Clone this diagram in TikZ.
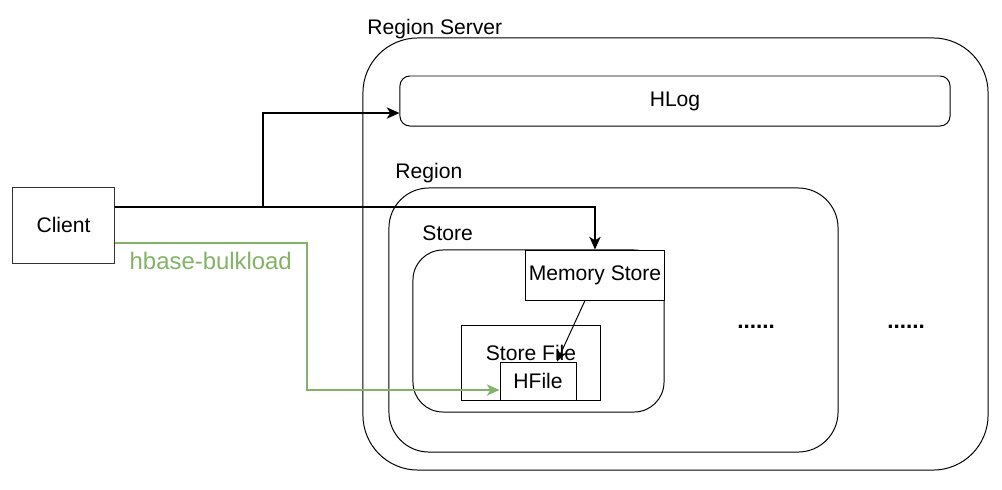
\documentclass[tikz,border=0pt]{standalone}
\usepackage{fontspec}
\setmainfont{Liberation Sans}
\usetikzlibrary{arrows.meta}
\definecolor{bulkgreen}{HTML}{82B366}
\tikzstyle{box} = [rectangle, draw = black, line width = 0.7pt, text centered, inner sep = 0pt]
\tikzstyle{server} = [box, rounded corners = 1.375cm]
\tikzstyle{rbox} = [box, rounded corners = 0.25cm]
\tikzstyle{tag} = [anchor = base west, inner sep = 0.333em]
\tikzstyle{arrow} = [line width = 1.4pt, ->, >={Stealth[length = 9pt, width = 8pt, inset = 2.5pt]}]
\tikzstyle{thinarrow} = [line width = 0.7pt, ->, >={Stealth[length = 8pt, width = 7pt, inset = 2pt]}]
\tikzstyle{bulkarrow} = [line width = 1.3pt, ->, >={Stealth[length = 9pt, width = 8pt, inset = 2.5pt]}, draw = bulkgreen]

\begin{document}
\begin{tikzpicture}[x = 0.025cm, y = -0.025cm, font = \fontsize{15}{18}\selectfont]
    \useasboundingbox (0,0) rectangle (1002,489);

    \node(rs1)[server, minimum width = 15.625cm, minimum height = 10.8cm, label = {[tag, yshift = 0.08cm]north west:Region Server}] at (675.5,254) {};
    \node(hlog1)[rbox, minimum width = 13.75cm, minimum height = 1.25cm] at (675,101) {HLog};
    \node(reg1)[box, rounded corners = 1cm, minimum width = 11.225cm, minimum height = 6.6cm, label = {[tag, xshift = 0.05cm, yshift = 0.22cm]north west:Region}] at (613.5,320) {};
    \node(store1)[box, rounded corners = 0.75cm, minimum width = 6.275cm, minimum height = 4.05cm, label = {[tag, xshift = 0.125cm, yshift = 0.22cm]north west:Store}] at (538.5,331) {};
    \node(mem1)[box, fill = white, minimum width = 3.45cm, minimum height = 1.25cm] at (595,275) {Memory Store};
    \node(sf1)[box, minimum width = 3.45cm, minimum height = 1.875cm, label = {[yshift = 0.24cm]center:Store File}] at (531,362.5) {};
    \node(hf1)[box, fill = white, minimum width = 1.9cm, minimum height = 0.95cm] at (538,381) {HFile};
    \node(client1)[box, draw = black!80, minimum width = 2.525cm, minimum height = 1.9cm] at (63.5,225) {Client};
    \node(dots1)[font = \fontsize{16}{18}\selectfont\bfseries] at (756,327) {......};
    \node(dots2)[font = \fontsize{16}{18}\selectfont\bfseries] at (906,327) {......};

    \coordinate(br1) at (263,207);
    \coordinate(gr1) at (307,300);

    \draw[arrow]([yshift = 0.45cm]client1.east) -| (mem1.north);
    \draw[arrow](br1) |- ([yshift = -0.3cm]hlog1.west);
    \draw[thinarrow]([xshift = -0.25cm]mem1.south) -- ([xshift = 0.475cm]hf1.north);
    \draw[bulkarrow]([yshift = -0.45cm]client1.east) -| node[pos = 0.25, below, text = bulkgreen, font = \fontsize{17}{20}\selectfont, yshift = -0.08cm]{hbase-bulkload} (gr1) |- ([yshift = -0.225cm]hf1.west);
\end{tikzpicture}
\end{document}
